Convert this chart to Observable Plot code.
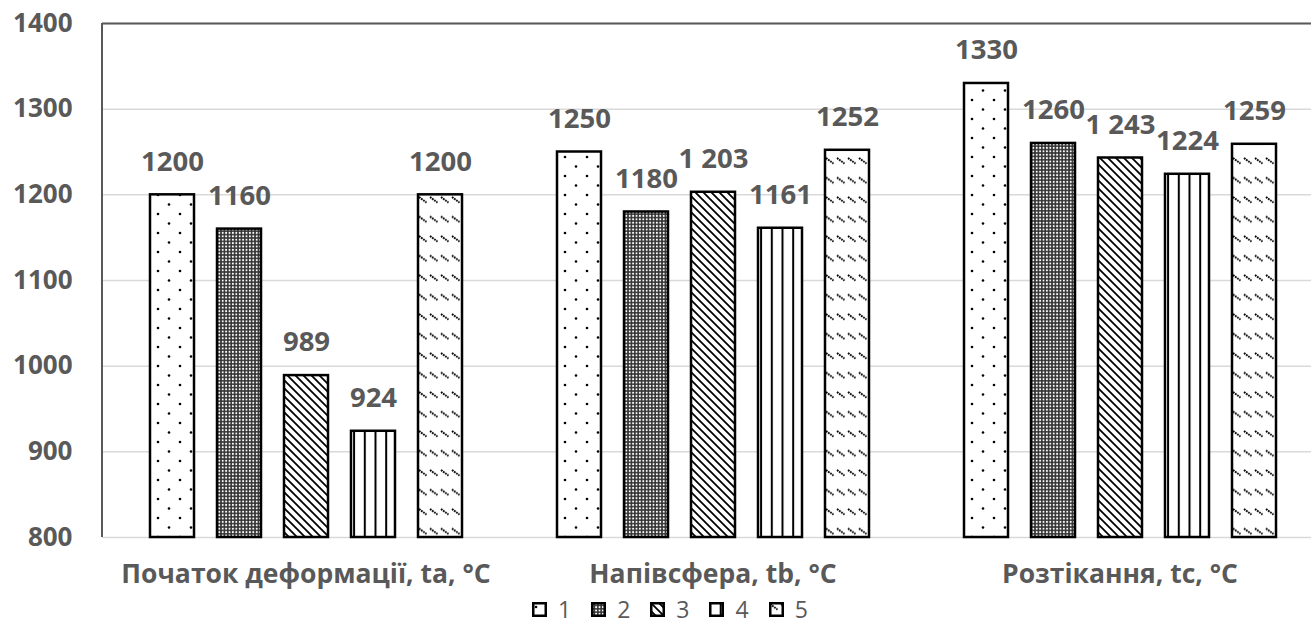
<!DOCTYPE html>
<html>
<head>
<meta charset="utf-8">
<script src="https://cdn.jsdelivr.net/npm/d3@7"></script>
<script src="https://cdn.jsdelivr.net/npm/@observablehq/plot@0.6"></script>
<style>
  html, body { margin: 0; padding: 0; background: white; overflow: hidden; }
  #chart svg { display: block; }
  #legend { display: flex; align-items: center; height: 38px; padding-left: 532px;
            font-family: "Open Sans", sans-serif; font-size: 23px; color: #595959; }
  #legend .item { display: flex; align-items: center; margin-right: 20px; }
  #legend svg { display: block; margin-right: 11px; }
</style>
</head>
<body>
<svg width="0" height="0" style="position:absolute">
  <defs>
    <pattern id="p1" patternUnits="userSpaceOnUse" width="22" height="19">
      <rect width="22" height="19" fill="white"/>
      <circle cx="4" cy="5" r="1.3" fill="black"/>
      <circle cx="15" cy="14.5" r="1.3" fill="black"/>
    </pattern>
    <pattern id="p2" patternUnits="userSpaceOnUse" width="3.4" height="3.4">
      <rect width="3.4" height="3.4" fill="#333"/>
      <circle cx="1.7" cy="1.7" r="1" fill="white"/>
    </pattern>
    <pattern id="p3" patternUnits="userSpaceOnUse" width="8" height="8">
      <rect width="8" height="8" fill="white"/>
      <path d="M0,0 L8,8 M-2,6 L2,10 M6,-2 L10,2" stroke="black" stroke-width="1.8"/>
    </pattern>
    <pattern id="p4" patternUnits="userSpaceOnUse" width="10.7" height="20">
      <rect width="10.7" height="20" fill="white"/>
      <rect x="0" y="0" width="2" height="20" fill="black"/>
    </pattern>
    <pattern id="p5" patternUnits="userSpaceOnUse" width="11" height="19.5">
      <rect width="11" height="19.5" fill="white"/>
      <path d="M1,2 L8.5,7.5" stroke="black" stroke-width="1.9" stroke-dasharray="1.8 0.8"/>
    </pattern>
  </defs>
</svg>
<div id="chart"></div>
<div id="legend"></div>
<script>
const groups = ["Початок деформації, ta, °C", "Напівсфера, tb, °C", "Розтікання, tc, °C"];
const series = ["1", "2", "3", "4", "5"];
const s1 = [1200, 1250, 1330];
const s2 = [1160, 1180, 1260];
const s3 = [989, 1203, 1243];
const s4 = [924, 1161, 1224];
const s5 = [1200, 1252, 1259];
const l1 = ["1200", "1250", "1330"];
const l2 = ["1160", "1180", "1260"];
const l3 = ["989", "1 203", "1 243"];
const l4 = ["924", "1161", "1224"];
const l5 = ["1200", "1252", "1259"];
const yTicks = [800, 900, 1000, 1100, 1200, 1300, 1400];

const seriesValues = [s1, s2, s3, s4, s5];
const seriesLabels = [l1, l2, l3, l4, l5];
const data = [];
series.forEach((s, i) => groups.forEach((g, j) => {
  data.push({group: g, series: s, value: seriesValues[i][j], label: seriesLabels[i][j]});
}));

const chart = Plot.plot({
  width: 1311,
  height: 590,
  marginLeft: 102,
  marginRight: -12,
  marginTop: 23,
  marginBottom: 53,
  style: {fontFamily: "Open Sans, sans-serif", color: "#595959", background: "white", overflow: "visible"},
  fx: {domain: groups, padding: 0, label: null},
  x: {domain: series, paddingInner: 0.35, paddingOuter: 0.69, axis: null},
  y: {domain: [800, 1400], label: null},
  color: {type: "identity"},
  marks: [
    Plot.gridY(yTicks, {stroke: "#d9d9d9", strokeOpacity: 1, strokeWidth: 1.5}),
    Plot.ruleY([1400], {stroke: "#595959", strokeWidth: 2}),
    Plot.axisY(yTicks, {tickSize: 0, tickPadding: 30, tickFormat: "d", fontSize: 26, fontWeight: "bold", label: null}),
    Plot.axisFx({anchor: "bottom", tickSize: 0, tickPadding: 27, fontSize: 26.5, fontWeight: "bold", label: null}),
    Plot.barY(data, {fx: "group", x: "series", y1: 800, y2: "value",
      fill: d => `url(#p${d.series})`, stroke: "black", strokeWidth: 2.5}),
    Plot.text(data, {fx: "group", x: "series", y: "value", text: "label", dy: -33,
      fontSize: 27.5, fontWeight: "bold", fill: "#595959"})
  ]
});
document.getElementById("chart").appendChild(chart);

// left border of the plot area
const ys = chart.scale("y");
d3.select(chart).append("line")
  .attr("x1", 102).attr("x2", 102)
  .attr("y1", ys.apply(1400)).attr("y2", ys.apply(800))
  .attr("stroke", "#595959").attr("stroke-width", 2);

// legend
const legend = d3.select("#legend");
series.forEach(s => {
  const item = legend.append("div").attr("class", "item");
  const sw = item.append("svg").attr("width", 15).attr("height", 15);
  sw.append("rect").attr("x", 1.25).attr("y", 1.25).attr("width", 12.5).attr("height", 12.5)
    .attr("fill", `url(#p${s})`).attr("stroke", "black").attr("stroke-width", 2.5);
  item.append("span").text(s);
});
</script>
</body>
</html>
